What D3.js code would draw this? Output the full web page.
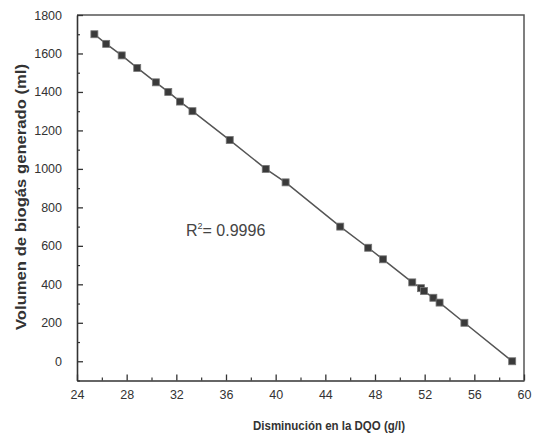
<!DOCTYPE html>
<html><head><meta charset="utf-8">
<script src="https://cdn.jsdelivr.net/npm/d3@7/dist/d3.min.js"></script>
<style>
html,body{margin:0;padding:0;background:#fff;}
svg{display:block;font-family:"Liberation Sans",Arial,Helvetica,sans-serif;}
</style></head>
<body>
<script>
// Data
const dqo = [25.4, 26.35, 27.6, 28.85, 30.35, 31.35, 32.3, 33.3, 36.3, 39.2, 40.8, 45.2, 47.45, 48.65, 51.0, 51.7, 51.95, 52.7, 53.2, 55.2, 59.05];
const biogas = [1700, 1650, 1590, 1525, 1450, 1400, 1350, 1300, 1150, 1000, 930, 700, 590, 530, 410, 380, 365, 330, 305, 200, 0];
const xTicks = [24, 28, 32, 36, 40, 44, 48, 52, 56, 60];
const xMinor = [26, 30, 34, 38, 42, 46, 50, 54, 58];
const yTicks = [0, 200, 400, 600, 800, 1000, 1200, 1400, 1600, 1800];
const yMinor = [-100, 100, 300, 500, 700, 900, 1100, 1300, 1500, 1700];
const xTitle = "Disminución en la DQO (g/l)";
const yTitle = "Volumen de biogás generado (ml)";
const r2Label = "0.9996";

const W = 533, H = 436;
const m = {left: 77, top: 15, right: 524, bottom: 380.5};
const svg = d3.select("body").append("svg").attr("width", W).attr("height", H);

const x = d3.scaleLinear().domain([24, 60]).range([m.left, m.right]);
const y = d3.scaleLinear().domain([-100, 1800]).range([m.bottom, m.top]);

const ink = "#333";

// frame (top & right)
svg.append("path")
  .attr("d", `M${m.left},${m.top}H${m.right}V${m.bottom}`)
  .attr("fill", "none").attr("stroke", "#555").attr("stroke-width", 1.5);

// x axis
const gx = svg.append("g").attr("transform", `translate(0,${m.bottom})`)
  .call(d3.axisBottom(x).tickValues(xTicks).tickSize(-6).tickPadding(10).tickSizeOuter(0).tickFormat(d3.format("d")));
gx.selectAll(".tick line").attr("stroke", ink).attr("stroke-width", 1.3);
gx.select(".domain").attr("stroke", ink).attr("stroke-width", 1.6);
gx.selectAll(".tick text").attr("fill", ink).attr("font-size", 12.5);
svg.append("g").attr("transform", `translate(0,${m.bottom})`)
  .call(d3.axisBottom(x).tickValues(xMinor).tickSize(-3).tickFormat(""))
  .call(g => g.select(".domain").remove())
  .selectAll(".tick line").attr("stroke", ink).attr("stroke-width", 1.2);

// y axis
const gy = svg.append("g").attr("transform", `translate(${m.left},0)`)
  .call(d3.axisLeft(y).tickValues(yTicks).tickSize(-6).tickPadding(15).tickSizeOuter(0).tickFormat(d3.format("d")));
gy.selectAll(".tick line").attr("stroke", ink).attr("stroke-width", 1.3);
gy.select(".domain").attr("stroke", ink).attr("stroke-width", 1.6);
gy.selectAll(".tick text").attr("fill", ink).attr("font-size", 12.5);
svg.append("g").attr("transform", `translate(${m.left},0)`)
  .call(d3.axisLeft(y).tickValues(yMinor).tickSize(-3).tickFormat(""))
  .call(g => g.select(".domain").remove())
  .selectAll(".tick line").attr("stroke", ink).attr("stroke-width", 1.2);

// line
const pts = dqo.map((d, i) => [d, biogas[i]]);
svg.append("path").datum(pts)
  .attr("d", d3.line().x(d => x(d[0])).y(d => y(d[1])))
  .attr("fill", "none").attr("stroke", "#555").attr("stroke-width", 1.5);

// markers
const s = 7;
svg.append("g").selectAll("rect").data(pts).join("rect")
  .attr("x", d => x(d[0]) - s / 2).attr("y", d => y(d[1]) - s / 2)
  .attr("width", s).attr("height", s)
  .attr("fill", "#3a3a3a").attr("stroke", "#777").attr("stroke-width", 0.8);

// R^2 annotation
const t = svg.append("text").attr("x", 186).attr("y", 236)
  .attr("font-size", 16).attr("fill", "#444");
t.append("tspan").text("R");
t.append("tspan").attr("font-size", 9).attr("dy", -7).text("2");
t.append("tspan").attr("dy", 7).text("= " + r2Label);

// axis titles
svg.append("text").attr("x", 329).attr("y", 430).attr("text-anchor", "middle")
  .attr("font-size", 12.5).attr("font-weight", "bold").attr("fill", ink)
  .attr("textLength", 152).attr("lengthAdjust", "spacingAndGlyphs").text(xTitle);
svg.append("text").attr("transform", `translate(26,${197}) rotate(-90)`).attr("text-anchor", "middle")
  .attr("font-size", 14.5).attr("font-weight", "bold").attr("fill", ink)
  .attr("textLength", 266).attr("lengthAdjust", "spacingAndGlyphs").text(yTitle);
</script>
</body></html>
